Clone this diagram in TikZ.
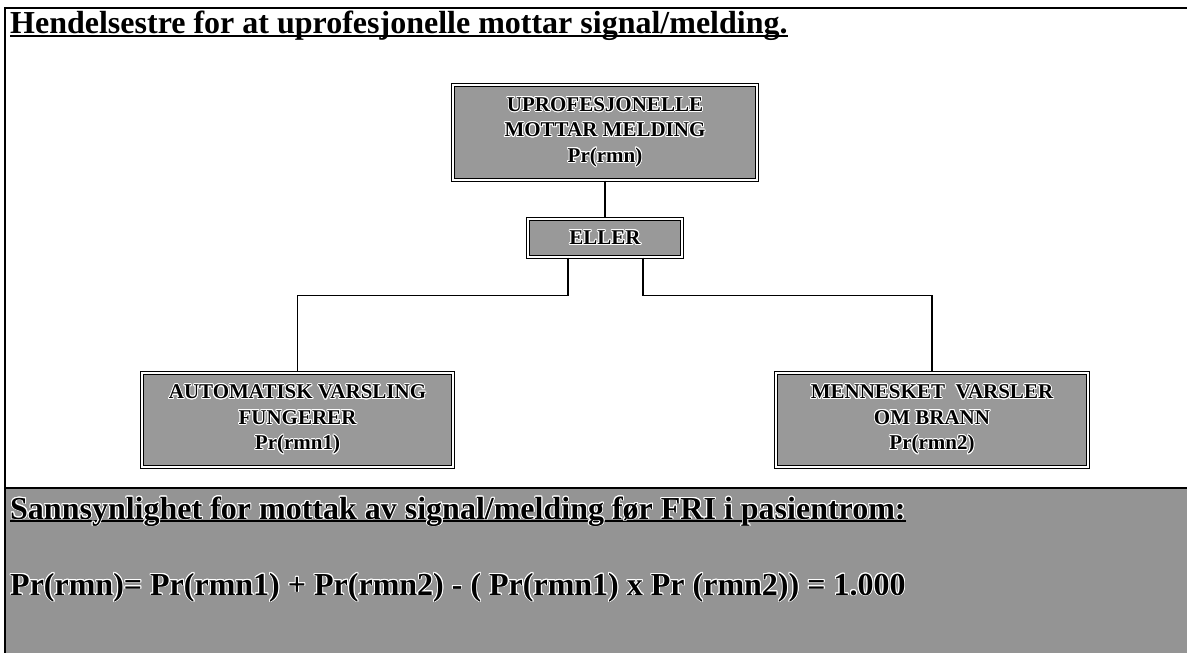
\documentclass[tikz,border=0pt]{standalone}
\usepackage{fontspec}
\setmainfont{Liberation Serif}
\usepackage{contour}
\contourlength{0.9pt}
\usetikzlibrary{calc}

% underline sitting just below the baseline, crossing descenders
\newcommand\ulin[1]{\setbox0\hbox{#1}\rlap{\rule[-3pt]{\wd0}{1.8pt}}\box0}
\newcommand\halo[1]{\contour{white}{#1}}

\definecolor{panelgray}{gray}{0.58}
\definecolor{boxgray}{gray}{0.60}

\tikzset{
  treebox/.style={draw=black, line width=1.1pt, double=white, double distance=1.6pt,
    fill=boxgray, inner sep=0pt, align=center,
    font=\bfseries\fontsize{21}{25.5}\selectfont},
  link/.style={draw=black, line width=1.8pt},
  bigtext/.style={anchor=base west, inner sep=0pt, font=\bfseries\fontsize{32}{34}\selectfont},
}

\begin{document}
\begin{tikzpicture}[x=1pt,y=-1pt]
\useasboundingbox (0,0) rectangle (1187,653);

% frame and lower panel
\fill[panelgray] (6,489) rectangle (1187,653);
\draw[line width=2pt] (5,653) -- (5,8) -- (1187,8);
\draw[line width=2.5pt] (5,488) -- (1187,488);

% heading
\node[bigtext] (title) at (10,34)
  {\ulin{Hendelsestre for at uprofesjonelle mottar signal/melding.}};

% tree
\node[treebox, minimum width=304pt, minimum height=95pt] (top) at (605,132.5)
  {\halo{UPROFESJONELLE}\\\halo{MOTTAR MELDING}\\\halo{Pr(rmn)}};
\node[treebox, minimum width=154pt, minimum height=38pt] (eller) at (605,238)
  {\halo{ELLER}};
\node[treebox, minimum width=311pt, minimum height=94pt] (left) at (297.5,420)
  {\halo{AUTOMATISK VARSLING}\\\halo{FUNGERER}\\\halo{Pr(rmn1)}};
\node[treebox, minimum width=312pt, minimum height=94pt] (right) at (932,420)
  {\halo{MENNESKET\ \ VARSLER}\\\halo{OM BRANN}\\\halo{Pr(rmn2)}};

\draw[link] (top.south) -- (eller.north);
\draw[link] ([xshift=-37pt]eller.south) -- ++(0,38) -| (left.north);
\draw[link] ([xshift=38pt]eller.south) -- ++(0,38) -| (right.north);

% result panel
\node[bigtext] (restitle) at (10,519)
  {\ulin{\halo{Sannsynlighet for mottak av signal/melding før FRI i pasientrom:}}};
\node[bigtext] (formula) at (10,595)
  {\halo{Pr(rmn)= Pr(rmn1) + Pr(rmn2) - ( Pr(rmn1) x Pr (rmn2)) = 1.000}};
\end{tikzpicture}
\end{document}
